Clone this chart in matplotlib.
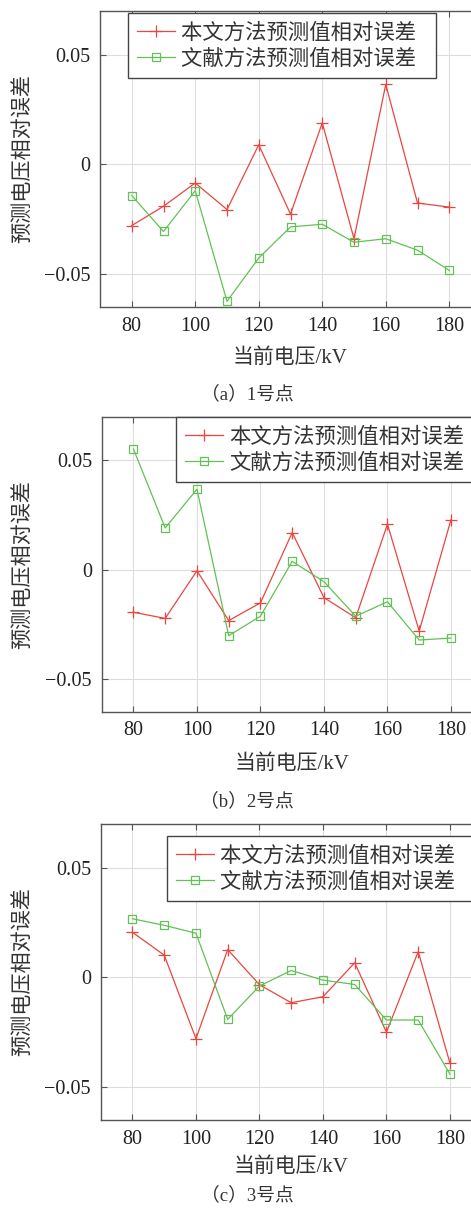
import matplotlib
matplotlib.use("Agg")
import matplotlib.pyplot as plt
from matplotlib.font_manager import FontProperties

# ---- data ----
voltage = [80, 90, 100, 110, 120, 130, 140, 150, 160, 170, 180]
xticks = [80, 100, 120, 140, 160, 180]
yticks = [-0.05, 0, 0.05]
ytick_labels = ["\u22120.05", "0", "0.05"]

ours_a = [-0.0279, -0.0191, -0.0085, -0.0206, 0.0089, -0.0227, 0.0189, -0.0339, 0.0364, -0.0176, -0.0195]
lit_a = [-0.0142, -0.0306, -0.0120, -0.0624, -0.0427, -0.0285, -0.0273, -0.0355, -0.0339, -0.0391, -0.0483]

ours_b = [-0.0195, -0.0223, -0.0005, -0.0233, -0.0152, 0.0170, -0.0128, -0.0220, 0.0208, -0.0281, 0.0228]
lit_b = [0.0552, 0.0191, 0.0368, -0.0302, -0.0213, 0.0038, -0.0055, -0.0213, -0.0147, -0.0322, -0.0313]

ours_c = [0.0206, 0.0102, -0.0279, 0.0127, -0.0033, -0.0115, -0.0088, 0.0067, -0.0250, 0.0118, -0.0391]
lit_c = [0.0268, 0.0238, 0.0202, -0.0191, -0.0039, 0.0032, -0.0012, -0.0032, -0.0194, -0.0194, -0.0441]

label_ours = "本文方法预测值相对误差"
label_lit = "文献方法预测值相对误差"
xlabel = "当前电压/kV"
ylabel = "预测电压相对误差"
captions = ["（a）1号点", "（b）2号点", "（c）3号点"]

# ---- layout (pixels) ----
W, H = 471, 1218
fig = plt.figure(figsize=(W / 100, H / 100), dpi=100)

mixed = ["Liberation Serif", "Noto Sans CJK SC"]
cjk_leg = FontProperties(family=["Noto Sans CJK SC", "DejaVu Sans"], size=15.4)
cjk_lab = FontProperties(family=["Noto Sans CJK SC"], size=15.2)

RED = "#e8463f"
GREEN = "#62c155"

panels = [
    # left, top, bottom (px), legend top-left (px), data, xlabel y, caption y, legend pad
    (100, 10.7, 307, (128, 13), ours_a, lit_a, 358, 394, "\u2002"),
    (101.7, 416.7, 711.7, (176, 417), ours_b, lit_b, 764, 801, ""),
    (100.7, 824, 1120, (167, 836), ours_c, lit_c, 1167, 1195, "\u2002"),
]

for i, (l, t, b, lg, ours, lit, xl_y, cap_y, pad) in enumerate(panels):
    right = l + 381
    ax = fig.add_axes([l / W, 1 - b / H, (right - l) / W, (b - t) / H])
    ax.plot(voltage, ours, color=RED, lw=0.9, marker="+", ms=9, mew=0.9,
            label=label_ours + pad)
    ax.plot(voltage, lit, color=GREEN, lw=0.9, marker="s", ms=5.5, mew=0.9,
            mfc="none", label=label_lit + pad)
    ax.set_xlim(70, 190)
    ax.set_ylim(-0.065, 0.07)
    ax.set_xticks(xticks)
    ax.set_yticks(yticks)
    ax.set_yticklabels(ytick_labels)
    ax.grid(True, color="#dddddd", lw=0.8)
    ax.set_axisbelow(True)
    for s in ax.spines.values():
        s.set_color("#555555")
        s.set_linewidth(1.0)
    ax.tick_params(direction="in", top=True, right=True, length=4, color="#555555",
                   labelsize=14.5, labelcolor="#222222", pad=7)
    for lab in ax.get_xticklabels() + ax.get_yticklabels():
        lab.set_family("Liberation Serif")
    ax.set_ylabel(ylabel, fontproperties=cjk_lab, color="#333333")
    ax.yaxis.set_label_coords(-(l - 33) / 381, 0.5)
    fig.text((l + 190.5) / W, 1 - xl_y / H, xlabel, family=mixed, size=15,
             color="#333333", ha="center", va="center")
    fig.text(247 / W, 1 - cap_y / H, captions[i], family=mixed, size=13.5,
             color="#333333", ha="center", va="center")
    leg = ax.legend(loc="upper left", bbox_to_anchor=(lg[0] / W, 1 - lg[1] / H),
                    bbox_transform=fig.transFigure, prop=cjk_leg, frameon=True,
                    fancybox=False, edgecolor="#444444", framealpha=1,
                    handlelength=1.8, labelspacing=0.2, borderpad=0.4,
                    handletextpad=0.3, borderaxespad=0)
    leg.get_frame().set_linewidth(1.0)
    for txt in leg.get_texts():
        txt.set_color("#333333")

fig.savefig("out.png", dpi=100)
